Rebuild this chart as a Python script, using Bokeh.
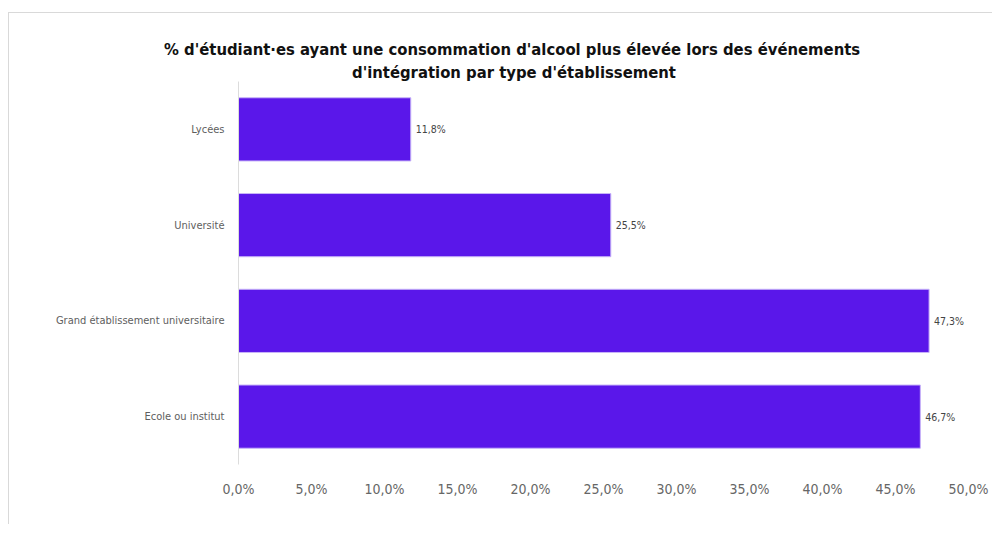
from bokeh.plotting import figure
from bokeh.models import ColumnDataSource, FactorRange, Range1d, FixedTicker, LabelSet, Title
from bokeh.core.properties import value
from bokeh.embed import file_html
from bokeh.resources import INLINE

# ---- data ----
categories = ["Lycées", "Université", "Grand établissement universitaire", "Ecole ou institut"]
values = [11.8, 25.5, 47.3, 46.7]
x_ticks = [0, 5, 10, 15, 20, 25, 30, 35, 40, 45, 50]
x_tick_labels = ["0,0%", "5,0%", "10,0%", "15,0%", "20,0%", "25,0%", "30,0%", "35,0%", "40,0%", "45,0%", "50,0%"]
title_lines = ["% d'étudiant·es ayant une consommation d'alcool plus élevée lors des événements",
               "d'intégration par type d'établissement"]

value_labels = [("%.1f" % v).replace(".", ",") + "%" for v in values]
src = ColumnDataSource(dict(cat=categories, val=values, lab=value_labels))

FONT = "'DejaVu Sans Condensed', 'Liberation Sans Narrow', Roboto"
W = 984

p = figure(width=W, height=512, output_backend="svg", toolbar_location=None,
           y_range=FactorRange(factors=list(reversed(categories)), range_padding=0),
           x_range=Range1d(0, 50),
           min_border_left=229, min_border_right=25, min_border_top=68, min_border_bottom=61)
p.styles = {"margin": "12px 0 0 8px", "border-top": "1px solid #d9d9d9",
            "border-left": "1px solid #d9d9d9"}

# title: two lines, inner line added first
for line, off, so in [(title_lines[1], 113.5, 0), (title_lines[0], -74.5, 4)]:
    p.add_layout(Title(text=line, align="left", offset=off, standoff=so,
                       text_font=FONT, text_font_style="bold", text_font_size="16.5px",
                       text_color="#111111"), "above")

p.hbar(y="cat", right="val", left=0, height=0.66, source=src,
       fill_color="#5a17ea", line_color="#c8b4f8", line_width=1)

labels = LabelSet(x="val", y="cat", text="lab", source=src, x_offset=5,
                  text_baseline="middle", text_align="left", text_font=value(FONT),
                  text_font_size="10.5px", text_color="#444444")
p.add_layout(labels)

p.outline_line_color = None
p.grid.grid_line_color = None

p.xaxis.ticker = FixedTicker(ticks=x_ticks)
p.xaxis.major_label_overrides = {float(tk): lb for tk, lb in zip(x_ticks, x_tick_labels)}
p.xaxis.axis_line_color = None
p.xaxis.major_tick_line_color = None
p.xaxis.minor_tick_line_color = None
p.xaxis.major_tick_out = 0
p.xaxis.major_tick_in = 0
p.xaxis.major_label_standoff = 16
p.xaxis.major_label_text_font = FONT
p.xaxis.major_label_text_font_size = "14px"
p.xaxis.major_label_text_color = "#666666"

p.yaxis.axis_line_color = "#dcdcdc"
p.yaxis.axis_line_width = 1
p.yaxis.major_tick_line_color = None
p.yaxis.minor_tick_line_color = None
p.yaxis.major_tick_out = 0
p.yaxis.major_tick_in = 0
p.yaxis.major_label_standoff = 14
p.yaxis.major_label_text_font = FONT
p.yaxis.major_label_text_font_size = "11px"
p.yaxis.major_label_text_color = "#5e5e5e"

open("out.html", "w").write(file_html(p, INLINE))
